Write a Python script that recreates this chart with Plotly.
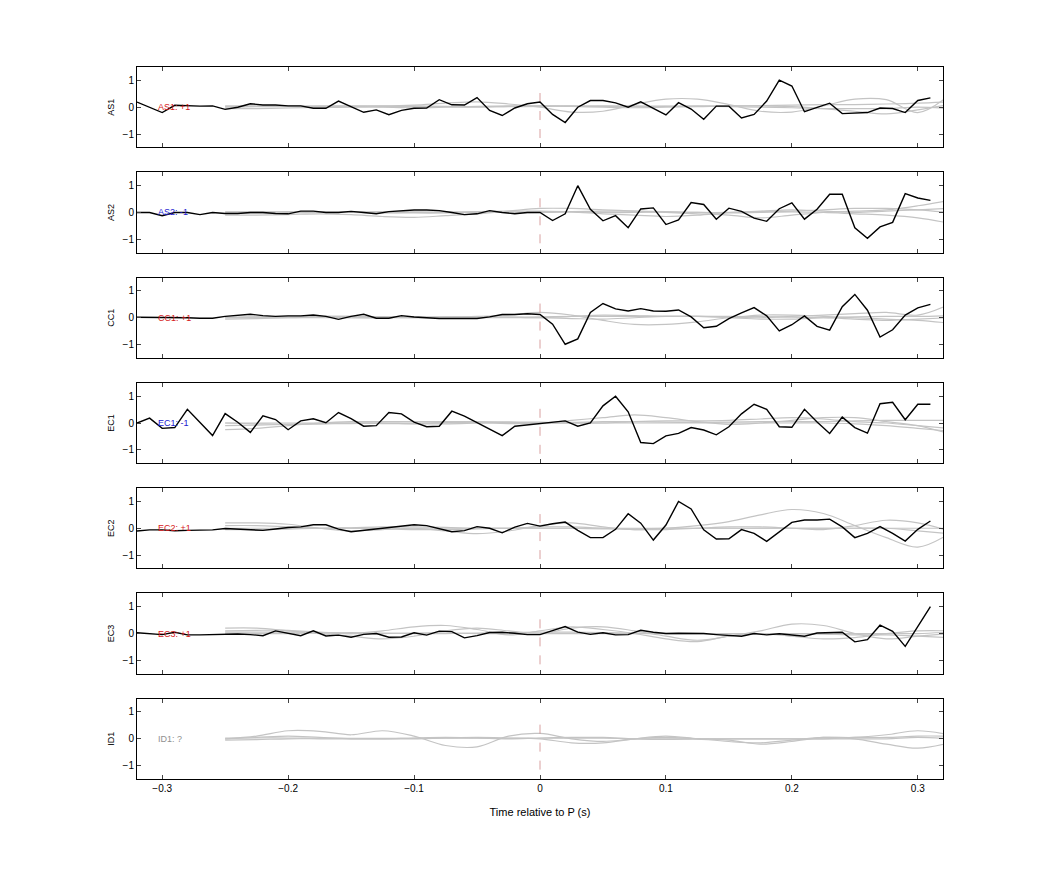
import plotly.graph_objects as go
from plotly.subplots import make_subplots

t = [round(-0.32 + 0.01 * i, 2) for i in range(64)]
names = ["AS1", "AS2", "CC1", "EC1", "EC2", "EC3", "ID1"]
labels = ["AS1: +1", "AS2: -1", "CC1: +1", "EC1: -1", "EC2: +1", "EC3: +1", "ID1: ?"]
label_colors = ["#d62020", "#2020d0", "#d62020", "#2020d0", "#d62020", "#d62020", "#909090"]

AS1 = [0.19,0,-0.2,0.07,0.05,0.04,0.05,-0.08,0,0.13,0.08,0.08,0.05,0.05,-0.04,-0.04,0.23,0.01,-0.19,-0.1,-0.28,-0.12,-0.04,-0.03,0.28,0.09,0.08,0.36,-0.12,-0.31,-0.03,0.13,0.19,
       -0.27,-0.57,0,0.25,0.25,0.16,0,0.2,-0.04,-0.29,0.17,-0.07,-0.45,0.04,0.04,-0.4,-0.27,0.23,1.01,0.79,-0.17,0,0.15,-0.24,-0.21,-0.2,-0.03,-0.05,-0.2,0.25,0.35]
AS2 = [0,0,-0.12,0,0,-0.08,0,-0.04,-0.04,0,0,-0.04,-0.05,0.05,0.05,0,0,0.04,0,-0.05,0.03,0.07,0.09,0.09,0.07,0,-0.08,-0.05,0.07,0,-0.05,0,0,
       -0.3,-0.05,1.0,0.12,-0.31,-0.12,-0.57,0.13,0.17,-0.45,-0.28,0.37,0.3,-0.25,0.16,0.04,-0.21,-0.33,0.14,0.36,-0.25,0.12,0.68,0.68,-0.57,-0.96,-0.54,-0.37,0.7,0.54,0.45]
CC1 = [0.02,0.02,0,0,0,-0.02,-0.02,0.05,0.1,0.13,0.08,0.05,0.07,0.07,0.1,0.05,-0.06,0.05,0.13,-0.02,-0.02,0.08,0.03,0,-0.03,-0.03,-0.03,-0.03,0.03,0.12,0.12,0.15,0.12,
       -0.24,-0.99,-0.79,0.2,0.53,0.33,0.25,0.34,0.25,0.24,0.29,0.03,-0.37,-0.32,-0.03,0.18,0.38,0.07,-0.49,-0.26,0.07,-0.32,-0.46,0.41,0.87,0.28,-0.72,-0.45,0.1,0.37,0.5]
EC1 = [0,0.18,-0.2,-0.17,0.51,0.03,-0.47,0.35,0.03,-0.35,0.27,0.13,-0.25,0.08,0.16,0.01,0.39,0.16,-0.12,-0.1,0.39,0.34,0.03,-0.14,-0.12,0.44,0.26,0.01,-0.24,-0.47,-0.12,-0.07,0,
       0.03,0.08,-0.12,0,0.64,1.0,0.42,-0.73,-0.77,-0.48,-0.39,-0.17,-0.26,-0.44,-0.14,0.34,0.7,0.51,-0.14,-0.16,0.51,0.04,-0.39,0.22,-0.17,-0.38,0.72,0.77,0.12,0.7,0.7]
EC2 = [-0.1,-0.06,-0.06,-0.09,-0.08,-0.06,-0.06,-0.01,-0.03,-0.05,-0.08,-0.03,0.03,0.05,0.13,0.13,-0.03,-0.13,-0.08,-0.01,0.04,0.09,0.13,0.1,-0.01,-0.13,-0.09,0.06,0,-0.17,0.04,0.18,0.08,
       0.17,0.23,-0.08,-0.35,-0.35,-0.04,0.54,0.19,-0.44,0.12,1.0,0.72,-0.06,-0.4,-0.39,-0.05,-0.19,-0.49,-0.14,0.22,0.31,0.31,0.34,0.05,-0.35,-0.19,0.06,-0.19,-0.48,-0.04,0.27]
EC3 = [0.03,0,-0.04,0.05,-0.05,-0.05,-0.04,-0.03,-0.02,-0.04,-0.08,0.1,0,-0.08,0.1,-0.09,-0.06,-0.14,-0.03,0,-0.14,-0.13,0.03,-0.06,0.09,0.07,-0.16,-0.08,0.04,0.05,0.01,-0.04,-0.04,
       0.12,0.26,0.05,-0.03,0.03,-0.05,-0.04,0.12,0.05,0,0.01,0.01,0,-0.04,-0.06,-0.1,0,-0.05,-0.01,-0.05,-0.1,0.02,0.03,0.05,-0.31,-0.23,0.31,0.08,-0.48,0.26,1.0]
black = [AS1, AS2, CC1, EC1, EC2, EC3, None]

tg = [round(-0.25 + 0.025 * i, 3) for i in range(24)]
gray = [
    [[0,0.02,0.03,0.05,0.05,0.05,0.08,0.15,0.2,0.12,0,-0.18,-0.15,0.1,0.3,0.3,0.1,-0.15,-0.18,0.05,0.3,0.28,-0.2,0.45],
     [-0.05,-0.05,-0.03,0,0.02,0,-0.02,0,0.03,0.05,0.05,0.03,0,-0.02,0,0.02,0.05,0.05,0.02,-0.05,-0.15,-0.25,-0.1,0.1],
     [0.02,0.03,0.02,0,0,0.02,0.03,0.02,0,0.03,0.05,0.05,0.03,0.02,0.03,0.05,0.05,0.06,0.08,0.1,0.1,0.12,0.15,0.2],
     [0.05,0.05,0.04,0.03,0.03,0.04,0.04,0.03,0.02,0.02,0.03,0.04,0.05,0.05,0.04,0.03,0.02,0,-0.02,-0.05,-0.05,-0.05,0,-0.05]],
    [[-0.1,-0.1,-0.08,-0.05,-0.08,-0.15,-0.18,-0.12,-0.05,0.05,0.15,0.15,0.1,0.05,0,-0.05,-0.1,-0.2,-0.1,0,0.05,0.1,0.25,0.45],
     [0,0.02,0.03,0.02,0,-0.02,0,0.02,0.03,0.05,0.05,0.02,-0.05,-0.1,-0.15,-0.1,0,0.05,0.1,0.05,0,0.05,0.1,0.15],
     [0.02,0.02,0,0,0.02,0.03,0.02,0,0,0,0.02,0.02,0,0,0.02,0,-0.02,0,0.02,0,-0.05,-0.1,-0.2,-0.4],
     [-0.03,-0.03,-0.02,0,0,0,-0.02,-0.02,0,0,0,0.03,0.05,0.05,0.03,0,0,0.03,0.05,0.1,0.15,0.15,0.1,0]],
    [[0,0.02,0.03,0.05,0.05,0.03,0,0.02,0.05,0.1,0.2,0.1,-0.1,-0.25,-0.25,-0.15,0,0.1,0.1,0.05,0,-0.05,-0.1,-0.2],
     [-0.05,-0.03,0,0.02,0,0,0.02,0.03,0.03,0.02,0,0.05,0.1,0.08,0.05,0.05,0.03,0,0.05,0.1,0.15,0.2,0.1,0.5],
     [0.02,0.03,0.05,0.05,0.05,0.04,0.03,0.02,0.02,0.02,0.03,0.05,0.05,0.05,0.05,0.05,0.05,0.04,0.02,0,-0.05,-0.1,-0.05,0],
     [0,0,0,0,0,0,0,0,0,0,0,-0.03,-0.05,0,0.05,0.05,0,-0.05,-0.05,0,0.03,0.05,0.05,0.08]],
    [[-0.25,-0.2,-0.1,0,0.05,0.05,0.05,0.05,0.05,0.03,0,0.1,0.2,0.3,0.2,0.05,-0.05,0,0.1,0.2,0.2,0.05,-0.1,-0.4],
     [0,-0.03,-0.05,-0.03,0,0,-0.03,-0.03,0,0.03,0.03,0,0,0.05,0.08,0.08,0.1,0.15,0.2,0.15,0.05,0,-0.1,-0.2],
     [-0.1,-0.08,-0.05,-0.03,-0.02,0,0,0.02,0.03,0.02,0,0.02,0.05,0.05,0.03,0.02,0.03,0.05,0.05,0.05,0.08,0.1,0.1,0.1],
     [0,0,0,0,0,-0.02,-0.02,0,0,-0.02,-0.02,0,0,0,0,0,0,0,0,0,-0.03,-0.1,-0.2,-0.3]],
    [[0.2,0.2,0.15,0,-0.1,-0.05,0,-0.1,-0.2,-0.1,0.1,0.2,0.05,-0.05,0,0.1,0.25,0.5,0.7,0.55,0.1,-0.35,-0.7,-0.2],
     [0.1,0.1,0.05,0,0.02,0.05,0.05,0.03,0,0,0.05,0.05,0,-0.05,-0.05,0,0.05,0.05,0,-0.05,0.1,0.3,0.2,-0.1],
     [-0.05,-0.05,-0.03,0,0,-0.02,-0.05,-0.05,-0.02,0,0,0,-0.02,-0.02,0,0,0,0,0,0,0,0,-0.1,-0.2],
     [0,0,0,0,0,0,0,0,0,0,0,0,0,0,0,0,0,0,0,0,0,0,0,0]],
    [[0.2,0.2,0.1,0,-0.1,-0.2,-0.1,0.1,0.2,0.1,0,0.2,0.25,0.1,-0.1,-0.25,-0.1,0.1,0.35,0.3,0,-0.2,-0.1,0],
     [0.1,0.12,0.12,0.05,0,0.1,0.25,0.3,0.15,-0.05,0.1,0.25,0.15,0,-0.2,-0.3,-0.1,0,-0.1,-0.2,-0.15,0,0.1,0.1],
     [0,0,0,0.02,0.03,0.02,0,0,0.02,0.03,0.05,0.05,0.03,0.02,0,0,0,0,0,-0.02,-0.05,-0.05,-0.1,-0.15],
     [0.05,0.05,0.05,0.03,0,0,0.02,0.02,0,0,0,0,0,0,0,0,0,0,0,0,0,0,0,0.05]],
    [[0,0.1,0.3,0.28,0.15,0.3,0.1,-0.25,-0.3,0.1,0.2,0,-0.1,0,0.05,0,-0.05,-0.2,-0.1,0.05,0.05,0.15,0.3,0.15],
     [0,0.05,0.1,0.05,0,0,0,0.03,0.05,0.03,0,-0.15,-0.15,0,0.1,0,-0.1,-0.15,-0.05,0.05,0,-0.2,-0.35,-0.15],
     [-0.05,-0.03,0,0,0,0,0.03,0.05,0.03,0,0.03,0.05,0.05,0,-0.02,0,0,0,0,0,0.05,0.05,0.1,0.1],
     [0.03,0.03,0.03,0.02,0.02,0.02,0.02,0.02,0.02,0.02,0.02,0.02,0.02,0,0,0,0,0,0,0,0,0,0.05,0]],
]

fig = make_subplots(rows=7, cols=1, vertical_spacing=0.0349)
for i in range(7):
    r = i + 1
    for g in gray[i]:
        fig.add_trace(go.Scatter(x=tg, y=g, mode="lines", line=dict(color="#c4c4c4", width=1.2, shape="spline"),
                                 showlegend=False, hoverinfo="skip"), row=r, col=1)
    fig.add_trace(go.Scatter(x=[0, 0], y=[-1.15, 0.8], mode="lines",
                             line=dict(color="rgba(200,120,120,0.7)", width=1, dash="dash"),
                             showlegend=False, hoverinfo="skip"), row=r, col=1)
    if black[i] is not None:
        fig.add_trace(go.Scatter(x=t, y=black[i], mode="lines", line=dict(color="black", width=1.4),
                                 showlegend=False), row=r, col=1)
    fig.add_annotation(x=-0.305, y=0, text=labels[i], showarrow=False, xanchor="left",
                       font=dict(size=9, color=label_colors[i]), row=r, col=1)
    fig.update_yaxes(range=[-1.5, 1.5], tickvals=[-1, 0, 1], ticks="inside", ticklen=4, mirror="ticks",
                     showline=True, linecolor="black", linewidth=1, showgrid=False, zeroline=False,
                     title=dict(text=names[i], font=dict(size=9), standoff=6),
                     tickfont=dict(size=10), row=r, col=1)
    fig.update_xaxes(range=[-0.32, 0.32], tickvals=[-0.3, -0.2, -0.1, 0, 0.1, 0.2, 0.3],
                     ticks="inside", ticklen=4, mirror="ticks", showline=True, linecolor="black", linewidth=1,
                     showgrid=False, zeroline=False, showticklabels=(r == 7), tickfont=dict(size=10),
                     row=r, col=1)
fig.update_xaxes(title=dict(text="Time relative to P (s)", font=dict(size=11)), row=7, col=1)
fig.update_layout(width=1042, height=875, plot_bgcolor="white", paper_bgcolor="white",
                  margin=dict(l=129, r=107, t=59, b=104),
                  font=dict(family="Liberation Sans, Arial, sans-serif", color="black"))
fig.write_html("out.html")
